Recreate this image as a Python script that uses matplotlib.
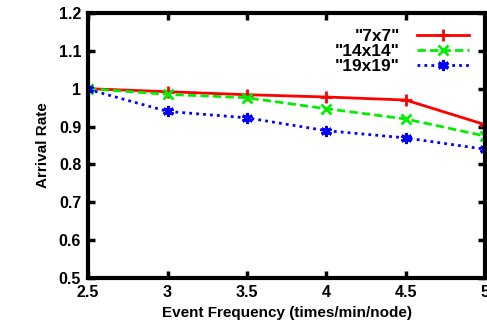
import matplotlib
matplotlib.use("Agg")
import matplotlib.pyplot as plt

plt.rcParams["font.family"] = ["Liberation Sans", "DejaVu Sans"]
plt.rcParams["font.weight"] = "bold"

freq = [2.5, 3, 3.5, 4, 4.5, 5]
rate_7 = [1.0, 0.992, 0.984, 0.978, 0.970, 0.905]
rate_14 = [1.0, 0.985, 0.976, 0.947, 0.920, 0.875]
rate_19 = [0.998, 0.940, 0.923, 0.889, 0.870, 0.840]

fig = plt.figure(figsize=(4.87, 3.31), dpi=100)
ax = fig.add_axes([0.181, 0.16, 0.815, 0.801])

ax.plot(freq, rate_7, color="#ff0000", lw=2, ls="-", marker="+", ms=8, mew=2, label='"7x7"')
ax.plot(freq, rate_14, color="#00ee00", lw=2, ls=(0, (3, 1.5)), marker="x", ms=7, mew=2, label='"14x14"')
ax.plot(freq, rate_19, color="#0000ff", lw=2, ls=(0, (1, 1.5)), marker=(6, 2, 0), ms=8, mew=2.2, label='"19x19"')

ax.set_xlim(2.5, 5)
ax.set_ylim(0.5, 1.2)
ax.set_xticks(freq)
ax.set_xticklabels(["2.5", "3", "3.5", "4", "4.5", "5"])
ax.set_yticks([0.5, 0.6, 0.7, 0.8, 0.9, 1.0, 1.1, 1.2])
ax.set_yticklabels(["0.5", "0.6", "0.7", "0.8", "0.9", "1", "1.1", "1.2"])
ax.tick_params(direction="in", length=5, width=2.5, top=True, right=True,
               labelsize=11.5, pad=5)
for s in ax.spines.values():
    s.set_linewidth(3)

ax.set_xlabel("Event Frequency (times/min/node)", fontsize=11, fontweight="bold")
ax.set_ylabel("Arrival Rate", fontsize=11, fontweight="bold", labelpad=6)

leg = ax.legend(loc="upper right", frameon=False, markerfirst=False, fontsize=12.5,
                handlelength=3.0, labelspacing=0.0, borderaxespad=0.3,
                handletextpad=1.0, borderpad=0.6)
for t in leg.get_texts():
    t.set_ha("right")

fig.savefig("out.png", dpi=100)
